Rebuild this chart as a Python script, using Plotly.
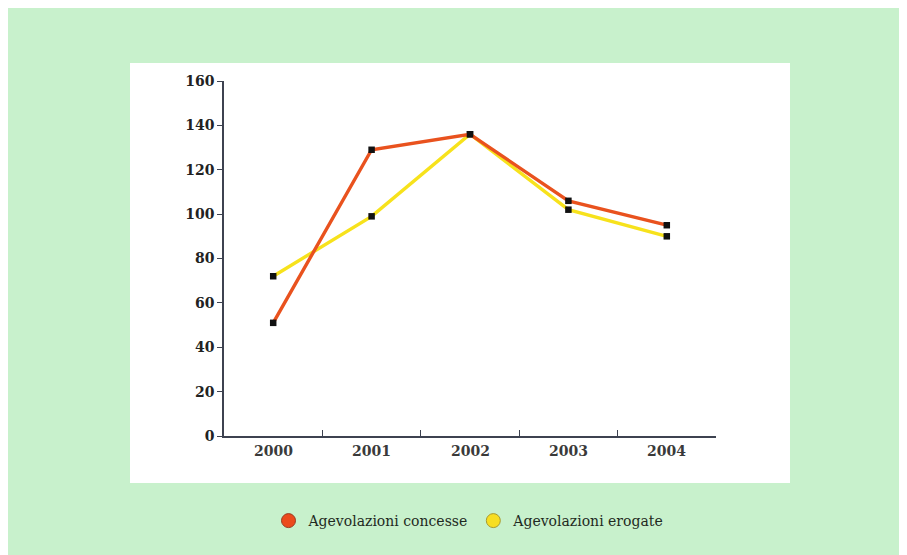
import plotly.graph_objects as go

years = ["2000", "2001", "2002", "2003", "2004"]
concesse = [51, 129, 136, 106, 95]
erogate = [72, 99, 136, 102, 90]
y_ticks = [0, 20, 40, 60, 80, 100, 120, 140, 160]

OFF = 8  # page body margin
W, H = 907 - OFF, 555 - OFF
L, R, T, B = 224 - OFF, 716 - OFF, 81 - OFF, 436 - OFF  # plot area in figure pixels

def px(x):
    return (x - OFF - L) / (R - L)

def py(y):
    return (B - (y - OFF)) / (B - T)

xs = list(range(len(years)))
serif = "DejaVu Serif, Liberation Serif, serif"

fig = go.Figure()
fig.add_trace(go.Scatter(
    x=xs, y=erogate, mode="lines+markers", name="Agevolazioni erogate",
    line=dict(color="#F7E21C", width=3.4),
    marker=dict(symbol="square", size=6.5, color="#111111"),
    showlegend=False, cliponaxis=False))
fig.add_trace(go.Scatter(
    x=xs, y=concesse, mode="lines+markers", name="Agevolazioni concesse",
    line=dict(color="#E9521E", width=3.4),
    marker=dict(symbol="square", size=6.5, color="#111111"),
    showlegend=False, cliponaxis=False))
# legend entries
fig.add_trace(go.Scatter(
    x=[None], y=[None], mode="markers", name="Agevolazioni concesse",
    marker=dict(symbol="circle", size=14, color="#EC4A1C",
                line=dict(color="#9a3a20", width=1))))
fig.add_trace(go.Scatter(
    x=[None], y=[None], mode="markers", name="Agevolazioni erogate",
    marker=dict(symbol="circle", size=14, color="#F7DE22",
                line=dict(color="#a89a30", width=1))))

shapes = [
    dict(type="rect", xref="paper", yref="paper", layer="below",
         x0=px(8), x1=px(900), y0=py(560), y1=py(8),
         fillcolor="#C8F1CC", line=dict(width=0)),
    dict(type="rect", xref="paper", yref="paper", layer="below",
         x0=px(130), x1=px(790), y0=py(483), y1=py(63),
         fillcolor="#FFFFFF", line=dict(width=0)),
]

fig.update_layout(
    width=W, height=H,
    margin=dict(l=L, r=W - R, t=T, b=H - B),
    paper_bgcolor="#FFFFFF",
    plot_bgcolor="rgba(0,0,0,0)",
    shapes=shapes,
    showlegend=True,
    legend=dict(orientation="h", x=px(469), xanchor="center", xref="paper",
                y=py(521), yanchor="middle", yref="paper",
                font=dict(family=serif, size=14, color="#1f2a22"),
                bgcolor="rgba(0,0,0,0)", itemwidth=30, tracegroupgap=0),
    xaxis=dict(
        range=[-0.5, 4.5], tickmode="array",
        tickvals=[-0.5, 0.5, 1.5, 2.5, 3.5, 4.5], ticktext=["", "", "", "", "", ""],
        ticks="inside", ticklen=6, tickcolor="#3d4250", tickwidth=1.2,
        showline=True, linecolor="#3d4250", linewidth=1.6,
        showgrid=False, zeroline=False, fixedrange=True),
    yaxis=dict(
        range=[0, 160], tickmode="array", tickvals=y_ticks,
        ticktext=[f"<b>{v}</b>" for v in y_ticks],
        ticks="outside", ticklen=5, tickcolor="#3d4250", tickwidth=1.2,
        showline=True, linecolor="#3d4250", linewidth=1.6,
        showgrid=False, zeroline=False,
        tickfont=dict(family=serif, size=14, color="#222"),
        ticklabelstandoff=0),
)
# category labels through the x axis scale
for i, yr in enumerate(years):
    fig.add_annotation(x=i, y=0, xref="x", yref="y", text=f"<b>{yr}</b>",
                       showarrow=False, yshift=-15,
                       font=dict(family=serif, size=14, color="#3a3a3a"))

fig.write_html("out.html")
